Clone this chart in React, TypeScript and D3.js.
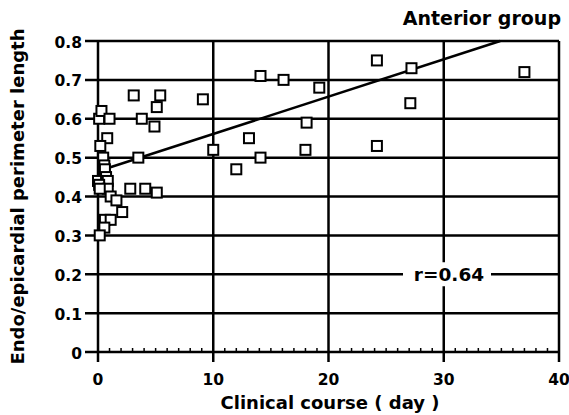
import React from 'react';
import * as d3 from 'd3';

// clinical course (day) vs endo/epicardial perimeter length ratio
const days = [
  0.1, 0.3, 1.0, 0.8, 0.2, 0.45, 0.55, 0.6, 0.0, 0.7, 0.85, 0.1, 0.85, 0.15, 1.1, 1.6, 2.1, 0.6, 1.1, 0.55, 0.15,
  2.8, 4.1, 5.1, 3.5, 3.1, 5.4, 5.1, 3.8, 4.9, 9.1, 10.0, 12.0, 13.1, 14.1, 14.1, 16.1, 18.1, 18.0, 19.2,
  24.2, 24.2, 27.2, 27.1, 37.0,
];
const ratios = [
  0.60, 0.62, 0.60, 0.55, 0.53, 0.50, 0.48, 0.47, 0.44, 0.45, 0.44, 0.43, 0.42, 0.42, 0.40, 0.39, 0.36, 0.34, 0.34, 0.32, 0.30,
  0.42, 0.42, 0.41, 0.50, 0.66, 0.66, 0.63, 0.60, 0.58, 0.65, 0.52, 0.47, 0.55, 0.50, 0.71, 0.70, 0.59, 0.52, 0.68,
  0.75, 0.53, 0.73, 0.64, 0.72,
];
const xTicks = [0, 10, 20, 30, 40];
const yTicks = [0, 0.1, 0.2, 0.3, 0.4, 0.5, 0.6, 0.7, 0.8];
const fit = { intercept: 0.465, slope: 0.0096, from: 0.8, to: 34.9 };
const rLabel = 'r=0.64';

const W = 569;
const H = 415;
const m = { left: 98, right: 10, top: 41, bottom: 63 };
const font = '"DejaVu Sans", Verdana, sans-serif';

export default function App() {
  const x = d3.scaleLinear().domain([0, 40]).range([m.left, W - m.right]);
  const y = d3.scaleLinear().domain([0, 0.8]).range([H - m.bottom, m.top]);
  const minor = d3.range(1, 40).filter((d) => d % 10 !== 0);
  const line = d3.line<number>().x((d) => x(d)).y((d) => y(fit.intercept + fit.slope * d));
  const s = 10;

  return (
    <svg width={W} height={H} style={{ position: 'absolute', left: 0, top: 0, background: '#fff' }}>
      <g stroke="#000" strokeWidth={2.5}>
        {yTicks.map((t) => (
          <line key={'h' + t} x1={x(0) - 13} x2={x(40)} y1={y(t)} y2={y(t)} />
        ))}
        {xTicks.map((t) => (
          <line key={'v' + t} x1={x(t)} x2={x(t)} y1={y(0.8)} y2={y(0) + 10} />
        ))}
        {minor.map((t) => (
          <line key={'m' + t} x1={x(t)} x2={x(t)} y1={y(0) - 4} y2={y(0)} strokeWidth={1.5} />
        ))}
      </g>
      <path d={line([fit.from, fit.to]) || ''} fill="none" stroke="#000" strokeWidth={2.5} />
      <rect x={403} y={y(0.2) - 12} width={88} height={24} fill="#fff" />
      <text x={449} y={y(0.2) + 7} textAnchor="middle" fontFamily={font} fontWeight="bold" fontSize={18.5}>
        {rLabel}
      </text>
      <g fill="#fff" stroke="#000" strokeWidth={2}>
        {days.map((d, i) => (
          <rect key={i} x={x(d) - s / 2} y={y(ratios[i]) - s / 2} width={s} height={s} />
        ))}
      </g>
      <g fontFamily={font} fontWeight="bold" fontSize={15.5}>
        {yTicks.map((t) => (
          <text key={'yl' + t} x={82} y={y(t) + 6.5} textAnchor="end">
            {t === 0 ? '0' : t.toFixed(1)}
          </text>
        ))}
        {xTicks.map((t) => (
          <text key={'xl' + t} x={x(t)} y={y(0) + 33} textAnchor="middle">
            {t}
          </text>
        ))}
        <text x={330} y={409} textAnchor="middle" fontSize={18}>
          Clinical course ( day )
        </text>
        <text transform={`translate(24,${(y(0) + y(0.8)) / 2}) rotate(-90)`} textAnchor="middle" fontSize={18}>
          Endo/epicardial perimeter length
        </text>
        <text x={561} y={25} textAnchor="end" fontSize={19}>
          Anterior group
        </text>
      </g>
    </svg>
  );
}
